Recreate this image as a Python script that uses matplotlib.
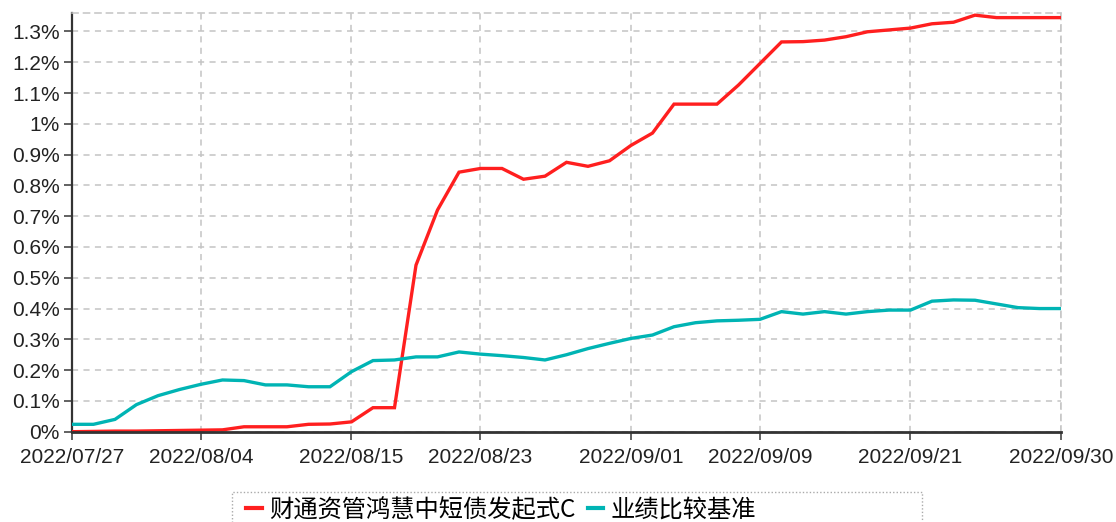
import matplotlib
matplotlib.use("Agg")
import matplotlib.pyplot as plt
from matplotlib.patches import Rectangle
from matplotlib.lines import Line2D

# 交易日
dates = ["2022/07/27", "2022/07/28", "2022/07/29", "2022/08/01", "2022/08/02",
         "2022/08/03", "2022/08/04", "2022/08/05", "2022/08/08", "2022/08/09",
         "2022/08/10", "2022/08/11", "2022/08/12", "2022/08/15", "2022/08/16",
         "2022/08/17", "2022/08/18", "2022/08/19", "2022/08/22", "2022/08/23",
         "2022/08/24", "2022/08/25", "2022/08/26", "2022/08/29", "2022/08/30",
         "2022/08/31", "2022/09/01", "2022/09/02", "2022/09/05", "2022/09/06",
         "2022/09/07", "2022/09/08", "2022/09/09", "2022/09/13", "2022/09/14",
         "2022/09/15", "2022/09/16", "2022/09/19", "2022/09/20", "2022/09/21",
         "2022/09/22", "2022/09/23", "2022/09/26", "2022/09/27", "2022/09/28",
         "2022/09/29", "2022/09/30"]

# 累计收益率 (%)
fund = [0.000, 0.001, 0.002, 0.002, 0.003, 0.004, 0.005, 0.006, 0.016, 0.016,
        0.016, 0.024, 0.025, 0.032, 0.078, 0.078, 0.541, 0.720, 0.843, 0.855,
        0.855, 0.820, 0.830, 0.875, 0.862, 0.880, 0.930, 0.970, 1.064, 1.064,
        1.064, 1.126, 1.196, 1.266, 1.267, 1.272, 1.283, 1.299, 1.305, 1.311,
        1.325, 1.330, 1.353, 1.345, 1.345, 1.345, 1.345]
bench = [0.024, 0.024, 0.040, 0.088, 0.117, 0.137, 0.154, 0.168, 0.166, 0.152,
         0.152, 0.146, 0.146, 0.195, 0.231, 0.233, 0.243, 0.243, 0.259, 0.252,
         0.247, 0.241, 0.233, 0.250, 0.270, 0.287, 0.303, 0.314, 0.341, 0.354,
         0.360, 0.362, 0.365, 0.390, 0.382, 0.390, 0.382, 0.390, 0.395, 0.395,
         0.424, 0.428, 0.427, 0.415, 0.403, 0.400, 0.400]

fund_name = "财通资管鸿慧中短债发起式C"
bench_name = "业绩比较基准"
tick_dates = ["2022/07/27", "2022/08/04", "2022/08/15", "2022/08/23",
              "2022/09/01", "2022/09/09", "2022/09/21", "2022/09/30"]

red = "#ff1f1f"
teal = "#00b4b4"

fig = plt.figure(figsize=(11.16, 5.22), dpi=100)
ax = fig.add_axes([72 / 1116, 1 - 431.7 / 522, (1061 - 72) / 1116, (431.7 - 13) / 522])

x = list(range(len(dates)))
ax.plot(x, fund, color=red, lw=2.4, solid_joinstyle="miter", zorder=3)
ax.plot(x, bench, color=teal, lw=2.4, solid_joinstyle="miter", zorder=3)

ax.set_xlim(0, len(dates) - 1)
ax.set_ylim(0, 1.36)

xt = [dates.index(d) for d in tick_dates]
ax.set_xticks(xt)
ax.set_xticklabels(tick_dates)
yt = [i / 10 for i in range(14)]
ax.set_yticks(yt)
ax.set_yticklabels([("%g" % round(v, 1)) + "%" for v in yt])

ax.grid(True, color="#c4c4c4", linestyle=(0, (4, 3.5)), linewidth=1.1)
ax.set_axisbelow(True)

for s in ["top", "right"]:
    ax.spines[s].set_color("#c4c4c4")
    ax.spines[s].set_linestyle((0, (4, 3.5)))
    ax.spines[s].set_linewidth(1.1)
ax.spines["left"].set_color("#333333")
ax.spines["left"].set_linewidth(1.6)
ax.spines["bottom"].set_color("#333333")
ax.spines["bottom"].set_linewidth(2.0)
ax.spines["bottom"].set_zorder(4)

ax.tick_params(axis="both", direction="out", length=6, width=1.3, color="#555555",
               labelsize=15, labelcolor="#222222")
ax.tick_params(axis="y", pad=3)
ax.tick_params(axis="x", pad=6)
for lab in ax.get_xticklabels() + ax.get_yticklabels():
    lab.set_family("Liberation Sans")

# 图例
fig.patches.append(Rectangle((232 / 1116, -0.05), (922 - 232) / 1116, 0.05 + 30 / 522,
                             transform=fig.transFigure, fill=False, edgecolor="#aaaaaa",
                             linestyle=(0, (1, 1.5)), linewidth=1.0))
handles = [Line2D([], [], color=red, lw=3), Line2D([], [], color=teal, lw=3)]
fig.legend(handles, [fund_name, bench_name], loc="center left",
           bbox_to_anchor=(246 / 1116, 1 - 510 / 522), ncol=2, frameon=False,
           prop={"family": ["Noto Sans CJK SC", "DejaVu Sans"], "size": 17.5},
           handlelength=0.65, handletextpad=0.3, columnspacing=0.5, borderpad=0,
           borderaxespad=0)

fig.savefig("out.png", dpi=100)
